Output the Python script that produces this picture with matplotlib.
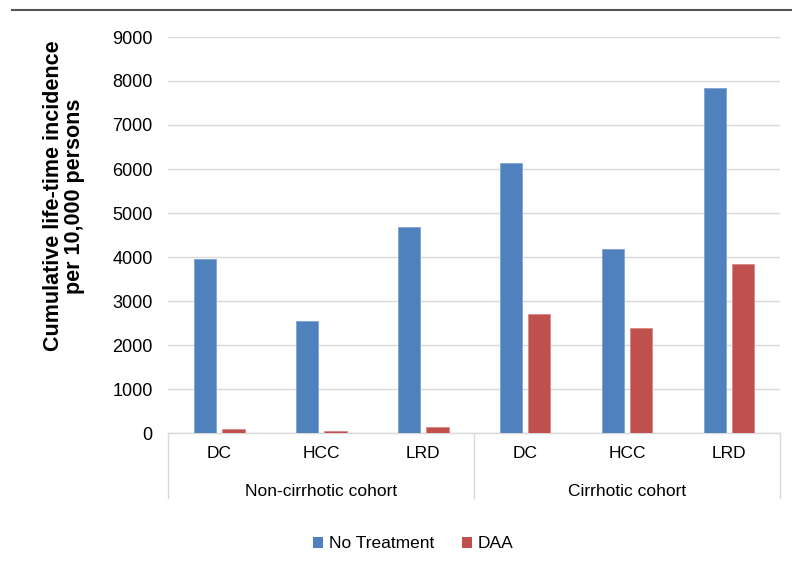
import matplotlib
matplotlib.use("Agg")
import matplotlib.pyplot as plt
import matplotlib.transforms as mtransforms
from matplotlib.lines import Line2D
from matplotlib.patches import Patch
import numpy as np

plt.rcParams['font.family'] = ['Liberation Sans', 'DejaVu Sans']

# Data
categories = ["DC", "HCC", "LRD", "DC", "HCC", "LRD"]
groups = ["Non-cirrhotic cohort", "Cirrhotic cohort"]
no_treatment = [3950, 2550, 4680, 6130, 4190, 7830]
daa = [100, 50, 130, 2700, 2380, 3840]
series_names = ["No Treatment", "DAA"]
yticks = [0, 1000, 2000, 3000, 4000, 5000, 6000, 7000, 8000, 9000]

blue = "#4F81BD"
red = "#C0504D"
grid_c = "#D9D9D9"
text_c = "#000000"

W, H = 792, 567
fig = plt.figure(figsize=(W / 100, H / 100), dpi=100)
ax = fig.add_axes([168 / W, 1 - 433 / H, (780 - 168) / W, (433 - 37) / H])

x = np.arange(len(categories))
bw = 0.22
off = 0.14
ax.bar(x - off, no_treatment, bw, color=blue, edgecolor="#7FA3D1", linewidth=0.6, zorder=3)
ax.bar(x + off, daa, bw, color=red, edgecolor="#D98A88", linewidth=0.6, zorder=3)

ax.set_xlim(-0.5, len(categories) - 0.5)
ax.set_ylim(0, 9000)
ax.set_yticks(yticks)
ax.set_yticklabels([str(v) for v in yticks], fontsize=13, color=text_c)
ax.tick_params(axis="y", length=0, pad=11)
ax.set_xticks([])
ax.yaxis.grid(True, color=grid_c, linewidth=1.0, zorder=0)
ax.set_axisbelow(True)

for s in ["top", "right", "left"]:
    ax.spines[s].set_visible(False)
ax.spines["bottom"].set_color(grid_c)
ax.spines["bottom"].set_linewidth(1.0)

# Multi-level category axis
trans = mtransforms.blended_transform_factory(ax.transData, ax.transAxes)
ax_h = 433 - 37
for xb in [-0.5, 2.5, 5.5]:
    ax.add_line(Line2D([xb, xb], [0, -(498 - 433) / ax_h], transform=trans,
                       color=grid_c, linewidth=1.0, clip_on=False))
for xi, lab in zip(x, categories):
    ax.text(xi, -(453 - 433) / ax_h, lab, transform=trans, ha="center", va="center",
            fontsize=12.5, color=text_c)
for gi, g in enumerate(groups):
    ax.text(gi * 3 + 1, -(491 - 433) / ax_h, g, transform=trans, ha="center", va="center",
            fontsize=12.5, color=text_c)

# Y-axis title
fig.text(64 / W, 1 - 196 / H, "Cumulative life-time incidence\nper 10,000 persons",
         rotation=90, ha="center", va="center", multialignment="center",
         fontsize=15.5, fontweight="bold", color=text_c, linespacing=1.0)

# Legend
handles = [Patch(facecolor=blue, edgecolor="none"), Patch(facecolor=red, edgecolor="none")]
fig.legend(handles, series_names, loc="center", bbox_to_anchor=(413 / W, 1 - 544 / H),
           ncol=2, frameon=False, fontsize=12.5, handlelength=0.6, handleheight=0.6,
           handletextpad=0.3, columnspacing=1.6)

# Rule across the top
fig.add_artist(Line2D([12 / W, 1.0], [1 - 10 / H, 1 - 10 / H], transform=fig.transFigure,
                      color="#555555", linewidth=1.5))

fig.savefig("out.png", dpi=100, facecolor="white")
